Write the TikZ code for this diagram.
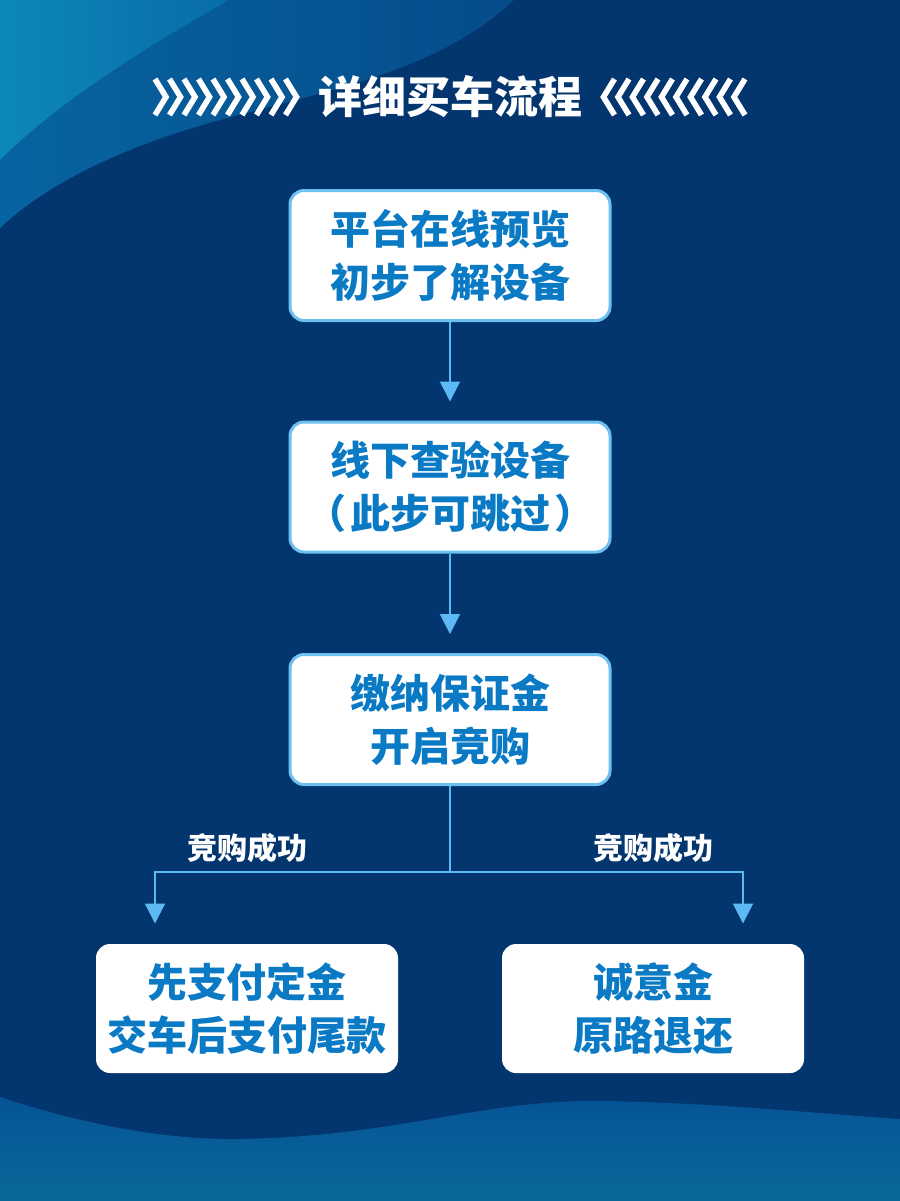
\documentclass[tikz,border=0pt]{standalone}
\usepackage{fontspec}
\newfontfamily\cjk{Noto Sans CJK SC}
\usetikzlibrary{arrows.meta}

\definecolor{navybg}{RGB}{3,54,110}
\definecolor{wavelightA}{RGB}{13,136,184}
\definecolor{wavelightB}{RGB}{8,108,168}
\definecolor{wavemidA}{RGB}{7,100,160}
\definecolor{wavemidB}{RGB}{5,76,138}
\definecolor{wavelowA}{RGB}{5,84,150}
\definecolor{wavelowB}{RGB}{10,104,152}
\definecolor{boxtext}{RGB}{11,122,196}
\definecolor{boxrim}{RGB}{108,192,242}
\definecolor{arrowblue}{RGB}{93,185,244}

\tikzset{
  stepnode/.style={draw=boxrim, line width=1.5pt, fill=white, rounded corners=7pt,
    minimum width=160pt, minimum height=65pt, align=center, text=boxtext,
    font=\cjk\bfseries\fontsize{20}{26.5}\selectfont},
  endnode/.style={stepnode, draw=none, minimum width=151pt, minimum height=64.5pt},
  flowline/.style={draw=arrowblue, line width=1pt},
  flowarrow/.style={flowline, -{Triangle[width=10pt,length=10pt]}},
  branchlbl/.style={text=white, font=\cjk\bfseries\fontsize{15}{18}\selectfont},
  chev/.style={white, line width=2.8pt}
}

\begin{document}
\begin{tikzpicture}[x=0.5pt,y=-0.5pt]
\useasboundingbox (0,0) rectangle (900,1201);
% background and waves
\fill[navybg] (0,0) rectangle (900,1201);
\shade[left color=wavemidA, right color=wavemidB] (0,0) -- (514,0)
  .. controls (440,70) and (330,90) .. (220,120)
  .. controls (110,150) and (40,190) .. (0,228) -- cycle;
\shade[left color=wavelightA, right color=wavelightB] (0,0) -- (229,0)
  .. controls (150,45) and (60,100) .. (0,160) -- cycle;
\shade[top color=wavelowA, bottom color=wavelowB] (0,1097)
  .. controls (100,1130) and (180,1140) .. (241,1139)
  .. controls (400,1136) and (480,1100) .. (597,1101)
  .. controls (700,1102) and (800,1112) .. (900,1119)
  -- (900,1201) -- (0,1201) -- cycle;

% title
\node[text=white, font=\cjk\bfseries\fontsize{22}{26}\selectfont] (title) at (450,97) {详细买车流程};
\foreach \i in {0,...,9} {
  \draw[chev] (155+\i*14.5,79) -- (166+\i*14.5,97) -- (155+\i*14.5,115);
  \draw[chev] (745-\i*14.5,79) -- (734-\i*14.5,97) -- (745-\i*14.5,115);
}

% steps
\node[stepnode] (browse) at (450,255.5) {平台在线预览\\初步了解设备};
\node[stepnode] (inspect) at (450,487) {线下查验设备\\（\hspace{2pt}此步可跳过\hspace{2pt}）};
\node[stepnode] (deposit) at (450,719.5) {缴纳保证金\\开启竞购};
\node[endnode] (payfull) at (247,1008.5) {先支付定金\\交车后支付尾款};
\node[endnode] (refund) at (653,1008.5) {诚意金\\原路退还};

\draw[flowarrow, shorten >=9.5pt] (browse) -- (inspect);
\draw[flowarrow, shorten >=9.5pt] (inspect) -- (deposit);

% branch
\coordinate (split) at (450,872);
\draw[flowline] (deposit) -- (split);
\draw[flowarrow, shorten >=9.5pt] (split) -| ([xshift=-46pt]payfull.north);
\draw[flowarrow, shorten >=9.5pt] (split) -| ([xshift=45pt]refund.north);
\node[branchlbl] (winL) at (247,848) {竞购成功};
\node[branchlbl] (winR) at (653,848) {竞购成功};
\end{tikzpicture}
\end{document}
